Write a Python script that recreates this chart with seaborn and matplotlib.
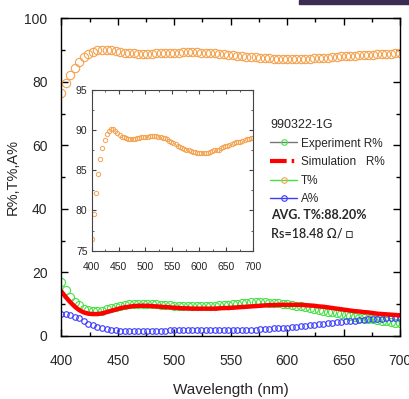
import numpy as np
import matplotlib
matplotlib.use('Agg')
import matplotlib.pyplot as plt
from matplotlib.lines import Line2D
from matplotlib.patches import Rectangle
from matplotlib.ticker import MultipleLocator
import seaborn as sns

# wavelength grid (nm) and the four spectra
wavelength = np.arange(400, 701, 4)

t_pct = [76.5, 79.5, 82.2, 84.5, 86.4, 87.8, 88.8, 89.5, 89.9, 90.1,
         90.1, 89.9, 89.6, 89.4, 89.2, 89.1, 89.0, 88.9, 88.9, 88.9,
         88.9, 89.0, 89.0, 89.1, 89.1, 89.2, 89.2, 89.3, 89.3, 89.3,
         89.3, 89.2, 89.1, 89.0, 89.0, 88.9, 88.7, 88.6, 88.4, 88.3,
         88.1, 87.9, 87.8, 87.7, 87.6, 87.5, 87.4, 87.3, 87.3, 87.2,
         87.2, 87.2, 87.2, 87.2, 87.2, 87.3, 87.4, 87.5, 87.5, 87.6,
         87.8, 87.9, 88.0, 88.1, 88.2, 88.3, 88.4, 88.5, 88.5, 88.6,
         88.7, 88.8, 88.9, 88.9, 89.0, 89.0]

exp_r = [17.0, 14.6, 12.4, 10.8, 9.6, 8.6, 8.1, 7.8, 7.8, 8.0,
         8.4, 8.8, 9.2, 9.5, 9.8, 10.0, 10.1, 10.2, 10.2, 10.2,
         10.1, 10.0, 9.9, 9.7, 9.6, 9.5, 9.4, 9.3, 9.3, 9.3,
         9.3, 9.3, 9.4, 9.4, 9.5, 9.6, 9.8, 9.9, 10.1, 10.2,
         10.4, 10.5, 10.6, 10.6, 10.6, 10.6, 10.5, 10.5, 10.4, 10.2,
         10.0, 9.8, 9.5, 9.3, 9.0, 8.8, 8.5, 8.3, 8.0, 7.7,
         7.5, 7.2, 6.9, 6.6, 6.3, 6.1, 5.8, 5.6, 5.4, 5.2,
         5.0, 4.8, 4.6, 4.4, 4.2, 4.0]

sim_r = [14.0, 12.2, 10.6, 9.2, 8.1, 7.4, 7.0, 6.9, 6.9, 7.1,
         7.5, 7.9, 8.3, 8.7, 9.0, 9.2, 9.4, 9.5, 9.5, 9.5,
         9.4, 9.3, 9.2, 9.1, 9.0, 8.9, 8.8, 8.7, 8.7, 8.6,
         8.6, 8.6, 8.6, 8.6, 8.6, 8.7, 8.8, 8.8, 8.9, 9.0,
         9.1, 9.2, 9.3, 9.4, 9.5, 9.6, 9.7, 9.7, 9.8, 9.8,
         9.8, 9.8, 9.8, 9.8, 9.7, 9.6, 9.5, 9.3, 9.2, 9.0,
         8.8, 8.6, 8.4, 8.2, 8.0, 7.8, 7.7, 7.5, 7.4, 7.2,
         7.0, 6.9, 6.8, 6.7, 6.6, 6.5]

a_pct = [7.0, 6.9, 6.6, 6.1, 5.5, 4.6, 3.9, 3.3, 2.8, 2.4,
         2.1, 1.9, 1.8, 1.7, 1.7, 1.6, 1.6, 1.6, 1.6, 1.6,
         1.7, 1.7, 1.7, 1.7, 1.8, 1.8, 1.8, 1.8, 1.8, 1.8,
         1.8, 1.8, 1.8, 1.8, 1.8, 1.8, 1.8, 1.8, 1.8, 1.8,
         1.9, 1.9, 2.0, 2.0, 2.1, 2.2, 2.3, 2.4, 2.4, 2.5,
         2.6, 2.8, 2.9, 3.1, 3.2, 3.3, 3.5, 3.7, 3.8, 4.0,
         4.1, 4.3, 4.5, 4.6, 4.7, 4.8, 5.0, 5.1, 5.2, 5.3,
         5.3, 5.4, 5.5, 5.6, 5.6, 5.7]

sample_name = '990322-1G'
legend_labels = ['Experiment R%', 'Simulation   R%', 'T%', 'A%']
avg_text = 'AVG. T%:88.20%'
rs_text = 'Rs=18.48 \u03a9/ \u25a1'

ORANGE = '#f5a24e'
GREEN = '#44e244'
BLUE = '#3a3aff'
RED = '#ff0000'

sns.set_style('ticks')
plt.rcParams['font.family'] = ['Liberation Sans', 'DejaVu Sans']

fig = plt.figure(figsize=(4.09, 3.99), dpi=100)
ax = fig.add_axes([0.150, 0.158, 0.828, 0.796])

sns.lineplot(x=wavelength, y=exp_r, ax=ax, marker='o', markersize=5.8,
             markerfacecolor='none', markeredgecolor=GREEN, markeredgewidth=0.8,
             linestyle='none', errorbar=None)
sns.lineplot(x=wavelength, y=a_pct, ax=ax, marker='o', markersize=4.0,
             markerfacecolor='none', markeredgecolor=BLUE, markeredgewidth=0.8,
             linestyle='none', errorbar=None)
sns.lineplot(x=wavelength, y=sim_r, ax=ax, color=RED, linewidth=3.2, errorbar=None)
sns.lineplot(x=wavelength, y=t_pct, ax=ax, marker='o', markersize=6.0,
             markerfacecolor='none', markeredgecolor=ORANGE, markeredgewidth=0.8,
             linestyle='none', errorbar=None)

ax.set_xlim(400, 700)
ax.set_ylim(0, 100)
ax.xaxis.set_major_locator(MultipleLocator(50))
ax.xaxis.set_minor_locator(MultipleLocator(25))
ax.yaxis.set_major_locator(MultipleLocator(20))
ax.yaxis.set_minor_locator(MultipleLocator(10))
ax.tick_params(which='both', direction='in', top=True, right=True, width=1, color='black')
ax.tick_params(which='major', length=5, labelsize=10)
ax.tick_params(axis='x', which='major', pad=13)
ax.tick_params(axis='y', which='major', pad=10)
ax.tick_params(which='minor', length=3)
for s in ax.spines.values():
    s.set_linewidth(1)
    s.set_color('black')
ax.set_xlabel('Wavelength (nm)', fontsize=11, labelpad=11)
ax.set_ylabel('R%,T%,A%', fontsize=10.5, labelpad=3)

# inset: zoom on T%
ins = fig.add_axes([0.224, 0.372, 0.395, 0.402])
sns.lineplot(x=wavelength, y=t_pct, ax=ins, marker='o', markersize=3.1,
             markerfacecolor='none', markeredgecolor=ORANGE, markeredgewidth=0.7,
             linestyle='none', errorbar=None)
ins.set_xlim(400, 700)
ins.set_ylim(75, 95)
ins.xaxis.set_major_locator(MultipleLocator(50))
ins.xaxis.set_minor_locator(MultipleLocator(25))
ins.yaxis.set_major_locator(MultipleLocator(5))
ins.yaxis.set_minor_locator(MultipleLocator(2.5))
ins.tick_params(which='both', direction='in', top=True, right=True, color='#444444')
ins.tick_params(which='major', length=3, labelsize=7.5)
ins.tick_params(axis='x', which='major', pad=8)
ins.tick_params(axis='y', which='major', pad=3)
ins.tick_params(which='minor', length=1.5)
for s in ins.spines.values():
    s.set_linewidth(0.8)
    s.set_color('#444444')
ins.set_xlabel('')
ins.set_ylabel('')

handles = [
    Line2D([], [], color='#777777', lw=1, marker='o', ms=4, mfc='none', mec=GREEN, mew=0.8),
    Line2D([], [], color=RED, lw=3, linestyle=(0, (4, 1.2, 0.6, 1.2))),
    Line2D([], [], color=GREEN, lw=1, marker='o', ms=4, mfc='none', mec=ORANGE, mew=0.8),
    Line2D([], [], color=BLUE, lw=1, marker='o', ms=4, mfc='none', mec=BLUE, mew=0.8),
]
leg = fig.legend(handles, legend_labels, loc='upper left',
                 bbox_to_anchor=(270 / 409, 1 - 119 / 399), bbox_transform=fig.transFigure,
                 frameon=False, fontsize=8.5, title=sample_name, title_fontsize=9,
                 alignment='left', handlelength=2.3, handletextpad=0.3,
                 labelspacing=0.56, borderpad=0, borderaxespad=0)

fig.text(271 / 409, 1 - 215 / 399, avg_text, fontsize=9, weight='bold',
         family=['Lato', 'DejaVu Sans'], va='center', ha='left')
fig.text(271 / 409, 1 - 234 / 399, rs_text, fontsize=9, weight='semibold',
         family=['Lato', 'DejaVu Sans'], va='center', ha='left')

# dark slide strip at the top right
fig.patches.append(Rectangle((299 / 409, 1 - 4 / 399), 110 / 409, 4 / 399,
                             transform=fig.transFigure, color='#3b2d52', zorder=5))

fig.savefig('out.png', dpi=100)
